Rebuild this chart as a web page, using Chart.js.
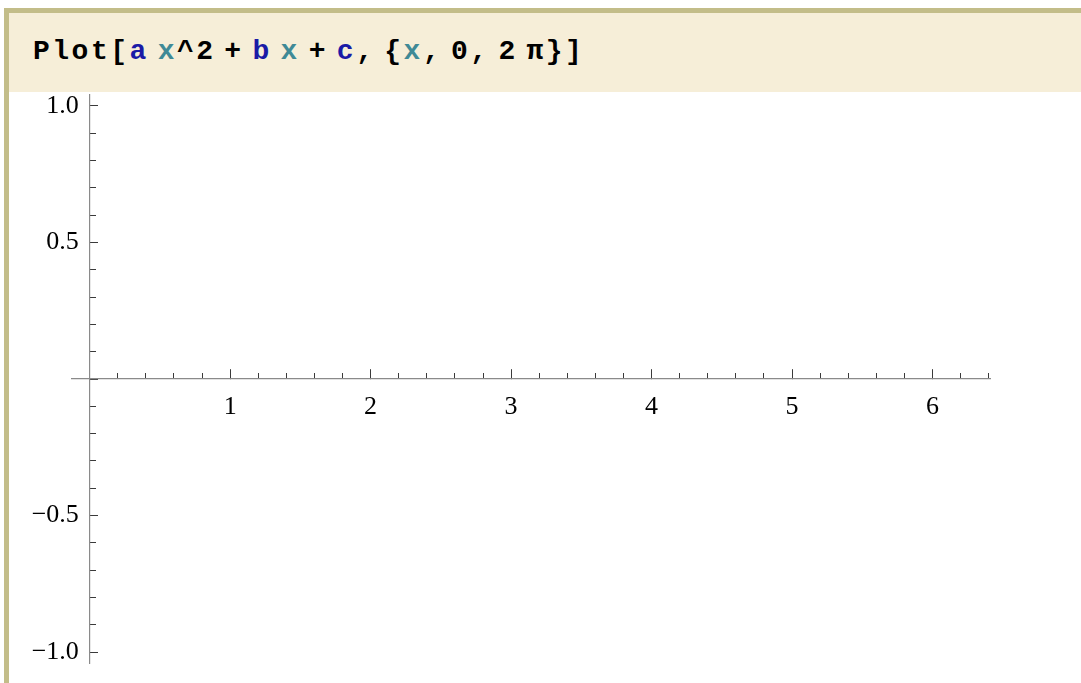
<!DOCTYPE html>
<html>
<head>
<meta charset="utf-8">
<script src="https://cdn.jsdelivr.net/npm/chart.js@4/dist/chart.umd.min.js"></script>
<style>
  html, body { margin: 0; padding: 0; background: #ffffff; }
  body { width: 1081px; height: 683px; position: relative; overflow: hidden; }
  .cell-bracket { position: absolute; left: 4px; top: 8px; width: 5px; height: 675px; background: #c3bd89; }
  .cell-input { position: absolute; left: 9px; top: 8px; right: 0; height: 79px; background: #f6eed8; border-top: 5px solid #c3bd89; }
  .code {
    position: absolute; left: 33px; top: 38px; line-height: 28px; white-space: pre;
    font-family: "Liberation Mono", "DejaVu Sans Mono", monospace; font-weight: bold; font-size: 28px;
    letter-spacing: 2.5px; word-spacing: -10.5px; color: #000;
  }
  .sym { color: #1a1aa6; }
  .var { color: #3f8a96; }
  #plot { position: absolute; left: 0; top: 0; }
</style>
</head>
<body>
<div class="cell-bracket"></div>
<div class="cell-input"></div>
<div class="code">Plot[<span class="sym">a</span> <span class="var">x</span>^2 + <span class="sym">b</span> <span class="var">x</span> + <span class="sym">c</span>, {<span class="var">x</span>, 0, 2 π}]</div>
<canvas id="plot" width="1081" height="683"></canvas>
<script>
// Plot[a x^2 + b x + c, {x, 0, 2 π}] with a, b, c unassigned: nothing evaluates to a number,
// so the curve has no points and only the axes are drawn.
const curvePoints = [];

// Plot domain and the padded ranges shown on each axis
const xDomain = [0, 2 * Math.PI];
const xPad = 0.02 * (xDomain[1] - xDomain[0]);
const yRange = [-1.04, 1.04];

// Labelled ticks
const xMajorTicks = [0, 1, 2, 3, 4, 5, 6];
const xTickLabels = ['', '1', '2', '3', '4', '5', '6'];
const yMajorTicks = [-1, -0.5, 0, 0.5, 1];
const yTickLabels = ['\u22121.0', '\u22120.5', '', '0.5', '1.0'];

// Unlabelled minor tick spacing
const xMinorStep = 0.2;
const yMinorStep = 0.1;

const labelFont = { family: '"Liberation Serif", "Times New Roman", serif', size: 26 };
const axisColor = '#8a8a8a';
const tickColor = '#3a3a3a';
// y labels sit right-aligned on the axis line; a narrow trailing gap keeps them off the ticks
const yLabelGap = '\u2005\u2006';

function majorAxis(axis, ticks, labels, extra) {
  return Object.assign({
    type: 'linear',
    axis: axis,
    afterBuildTicks: (scale) => { scale.ticks = ticks.map(v => ({ value: v })); },
    border: { display: true, color: axisColor, width: 1.2 }
  }, extra);
}

function minorAxis(axis, step, extra) {
  return Object.assign({
    type: 'linear',
    axis: axis,
    border: { display: false },
    ticks: { display: false, autoSkip: false, stepSize: step, includeBounds: false }
  }, extra);
}

const xMin = xDomain[0] - xPad, xMax = xDomain[1] + xPad;

new Chart(document.getElementById('plot'), {
  type: 'scatter',
  data: {
    datasets: [{
      data: curvePoints,
      showLine: true,
      borderColor: '#5e81b5',
      borderWidth: 1.5,
      pointRadius: 0,
      xAxisID: 'x',
      yAxisID: 'y'
    }]
  },
  options: {
    responsive: false,
    animation: false,
    events: [],
    layout: { padding: { left: 72, right: 91, top: 95, bottom: 20 } },
    plugins: { legend: { display: false }, tooltip: { enabled: false } },
    scales: {
      x: majorAxis('x', xMajorTicks, xTickLabels, {
        min: xMin, max: xMax, position: { y: 0 },
        grid: { drawOnChartArea: false, drawTicks: true, tickLength: -10, tickColor: tickColor, tickWidth: 1 },
        ticks: {
          autoSkip: false, maxRotation: 0, color: '#000', font: labelFont, padding: 23,
          callback: (value) => { const i = xMajorTicks.indexOf(value); return i >= 0 ? xTickLabels[i] : ''; }
        }
      }),
      y: majorAxis('y', yMajorTicks, yTickLabels, {
        min: yRange[0], max: yRange[1], position: { x: 0 },
        grid: { drawOnChartArea: false, drawTicks: true, tickLength: -9, tickColor: tickColor, tickWidth: 1 },
        ticks: {
          autoSkip: false, color: '#000', font: labelFont,
          callback: (value) => {
            const i = yMajorTicks.indexOf(value);
            return i >= 0 && yTickLabels[i] ? yTickLabels[i] + yLabelGap : '';
          }
        }
      }),
      xMinor: minorAxis('x', xMinorStep, {
        min: xMin, max: xMax, position: { y: 0 },
        grid: { drawOnChartArea: false, drawTicks: true, tickLength: -6, tickColor: tickColor, tickWidth: 1 }
      }),
      yMinor: minorAxis('y', yMinorStep, {
        min: yRange[0], max: yRange[1], position: { x: 0 },
        grid: { drawOnChartArea: false, drawTicks: true, tickLength: -6, tickColor: tickColor, tickWidth: 1 }
      })
    }
  }
});
</script>
</body>
</html>
